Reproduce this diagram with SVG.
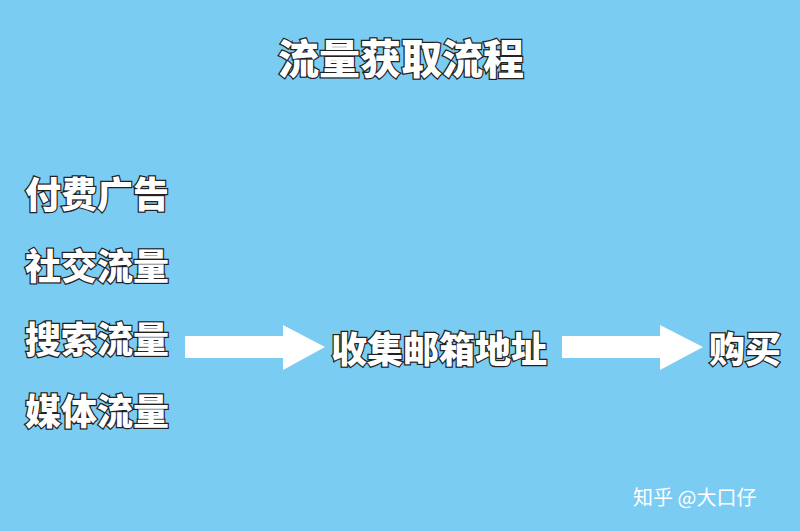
<svg xmlns="http://www.w3.org/2000/svg" width="800" height="531" viewBox="0 0 800 531">
<style>
.t{font-family:"Noto Sans CJK SC",sans-serif;font-weight:900;fill:#fff;stroke:#222;stroke-width:2.5;paint-order:stroke;font-size:36px}
.a{fill:#fff}
</style>
<rect width="800" height="531" fill="#7ACCF3"/>
<g id="title"><text class="t" x="401" y="74" text-anchor="middle" style="font-size:41px">流量获取流程</text></g>
<g id="src"><text class="t" x="25" y="208">付费广告</text>
<text class="t" x="25" y="280">社交流量</text>
<text class="t" x="25" y="353">搜索流量</text>
<text class="t" x="25" y="425">媒体流量</text></g>
<g id="collect"><text class="t" x="331" y="363">收集邮箱地址</text></g>
<g id="buy"><text class="t" x="709" y="363">购买</text></g>
<g id="connectors">
<polygon class="a" points="185,336 283,336 283,325 325,347 283,370 283,358 185,358"/>
<polygon class="a" points="562,336 660,336 660,325 703,347 660,370 660,358 562,358"/>
</g>
<text x="633" y="505" font-family="Noto Sans CJK SC,sans-serif" font-size="20" fill="#fff">知乎 @大口仔</text>
</svg>
